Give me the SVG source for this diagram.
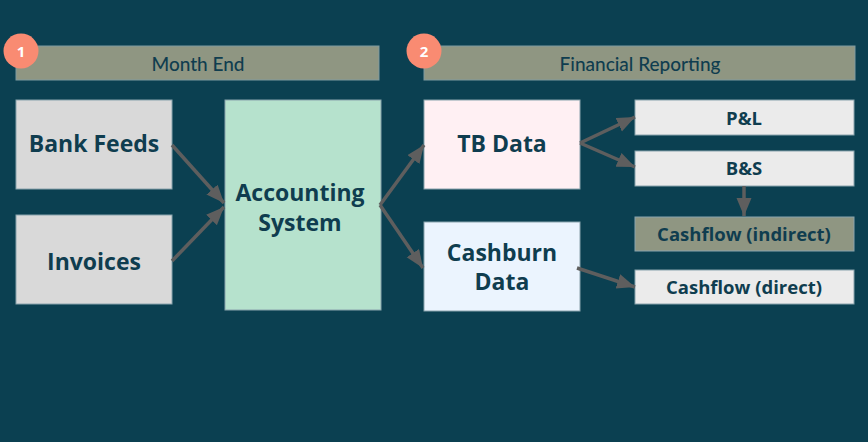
<svg xmlns="http://www.w3.org/2000/svg" width="868" height="442" viewBox="0 0 868 442">
<style>
.hdr{fill:#8f9682;stroke:#7f9aa0;stroke-width:1}
.hdrtxt{font-family:Lato,"Open Sans",sans-serif;font-size:19px;font-weight:500;fill:#0f3d4f;text-anchor:middle;dominant-baseline:central}
.badge{fill:#f98b72}
.badgetxt{font-family:"Open Sans",sans-serif;font-weight:bold;font-size:15px;fill:#ffffff;text-anchor:middle;dominant-baseline:central}
.box{stroke:#8aa3ad;stroke-width:1}
.big{font-family:"Open Sans",sans-serif;font-weight:bold;font-size:23px;fill:#0f3d4f;text-anchor:middle;dominant-baseline:central}
.small{font-family:"Open Sans",sans-serif;font-weight:bold;font-size:18.5px;fill:#0f3d4f;text-anchor:middle;dominant-baseline:central}
.conn{stroke:#5e5e5e;stroke-width:3.5;fill:none}
</style>
<defs>
<marker id="ah" markerUnits="userSpaceOnUse" markerWidth="20" markerHeight="16" refX="18" refY="7.5" orient="auto">
<path d="M0,0 L18,7.5 L0,15 Z" fill="#5e5e5e"/>
</marker>
</defs>
<rect width="868" height="442" fill="#0b4051"/>
<g id="header1">
<rect class="hdr" x="16" y="46" width="363" height="34"/>
<text class="hdrtxt" x="198" y="63">Month End</text>
</g>
<g id="badge1">
<circle class="badge" cx="21" cy="51" r="17.5"/>
<text class="badgetxt" x="21" y="51">1</text>
</g>
<g id="header2">
<rect class="hdr" x="424" y="46" width="431" height="34"/>
<text class="hdrtxt" x="640" y="63">Financial Reporting</text>
</g>
<g id="badge2">
<circle class="badge" cx="424" cy="51" r="17.5"/>
<text class="badgetxt" x="424" y="51">2</text>
</g>
<g id="bankfeeds">
<rect class="box" x="16" y="100" width="156" height="89" fill="#d9d9d9"/>
<text class="big" x="94" y="143">Bank Feeds</text>
</g>
<g id="invoices">
<rect class="box" x="16" y="215" width="156" height="89" fill="#d9d9d9"/>
<text class="big" x="94" y="261">Invoices</text>
</g>
<g id="accounting">
<rect class="box" x="225" y="100" width="156" height="210" fill="#b6e2cd"/>
<text class="big" x="300" y="192">Accounting</text>
<text class="big" x="300" y="222">System</text>
</g>
<g id="tbdata">
<rect class="box" x="424" y="100" width="156" height="89" fill="#fff0f3"/>
<text class="big" x="502" y="143">TB Data</text>
</g>
<g id="cashburn">
<rect class="box" x="424" y="222" width="156" height="89" fill="#ebf4fe"/>
<text class="big" x="502" y="252">Cashburn</text>
<text class="big" x="502" y="281">Data</text>
</g>
<g id="pl">
<rect class="box" x="635" y="100" width="219" height="35" fill="#ebebeb"/>
<text class="small" x="744" y="117">P&amp;L</text>
</g>
<g id="bs">
<rect class="box" x="635" y="151" width="219" height="35" fill="#ebebeb"/>
<text class="small" x="744" y="167">B&amp;S</text>
</g>
<g id="cfindirect">
<rect class="box" x="635" y="217" width="219" height="34" fill="#8f9682"/>
<text class="small" x="744" y="233">Cashflow (indirect)</text>
</g>
<g id="cfdirect">
<rect class="box" x="635" y="270" width="219" height="34" fill="#ebebeb"/>
<text class="small" x="744" y="286">Cashflow (direct)</text>
</g>
<g id="connectors">
<line class="conn" x1="172" y1="145" x2="224" y2="203" marker-end="url(#ah)"/>
<line class="conn" x1="172" y1="261" x2="224" y2="207" marker-end="url(#ah)"/>
<line class="conn" x1="380" y1="205" x2="424" y2="145" marker-end="url(#ah)"/>
<line class="conn" x1="380" y1="205" x2="423" y2="268" marker-end="url(#ah)"/>
<line class="conn" x1="580" y1="143" x2="635" y2="117" marker-end="url(#ah)"/>
<line class="conn" x1="580" y1="143" x2="635" y2="167" marker-end="url(#ah)"/>
<line class="conn" x1="744" y1="186" x2="744" y2="216" marker-end="url(#ah)"/>
<line class="conn" x1="577" y1="268" x2="635" y2="287" marker-end="url(#ah)"/>
</g>
</svg>
